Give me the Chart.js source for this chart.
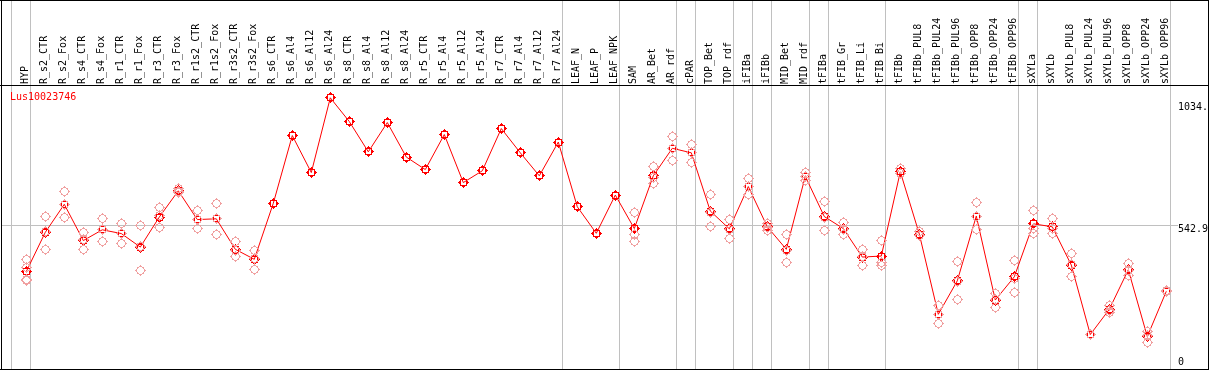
<!DOCTYPE html>
<html>
<head>
<meta charset="utf-8">
<script src="https://cdn.jsdelivr.net/npm/chart.js@4/dist/chart.umd.min.js"></script>
<style>
html,body{margin:0;padding:0;background:#fff;}
canvas{display:block;}
</style>
</head>
<body>
<canvas id="c" width="1209" height="370"></canvas>
<script>
const categories = ["HYP","R_s2_CTR","R_s2_Fox","R_s4_CTR","R_s4_Fox","R_r1_CTR","R_r1_Fox","R_r3_CTR","R_r3_Fox","R_r1s2_CTR","R_r1s2_Fox","R_r3s2_CTR","R_r3s2_Fox","R_s6_CTR","R_s6_Al4","R_s6_Al12","R_s6_Al24","R_s8_CTR","R_s8_Al4","R_s8_Al12","R_s8_Al24","R_r5_CTR","R_r5_Al4","R_r5_Al12","R_r5_Al24","R_r7_CTR","R_r7_Al4","R_r7_Al12","R_r7_Al24","LEAF_N","LEAF_P","LEAF_NPK","SAM","AR_Bet","AR_rdf","cPAR","TOP_Bet","TOP_rdf","iFIBa","iFIBb","MID_Bet","MID_rdf","tFIBa","tFIB_Gr","tFIB_Li","tFIB_Bi","tFIBb","tFIBb_PUL8","tFIBb_PUL24","tFIBb_PUL96","tFIBb_OPP8","tFIBb_OPP24","tFIBb_OPP96","sXYLa","sXYLb","sXYLb_PUL8","sXYLb_PUL24","sXYLb_PUL96","sXYLb_OPP8","sXYLb_OPP24","sXYLb_OPP96"];

const meanValues = [360,517,629,484,527,512,458,578,683,568,571,449,409,633,904,756,1055,960,839,956,818,768,908,716,763,932,835,743,878,619,513,666,532,743,853,835,602,531,700,539,449,741,580,532,418,422,759,510,189,323,582,246,339,551,539,386,108,209,367,100,281];

const rep1 = [409,582,680,515,574,551,545,616,692,606,633,481,446,null,null,null,null,null,null,null,null,null,null,null,null,null,null,null,null,null,null,null,598,779,902,870,669,570,733,553,509,756,642,556,449,484,772,521,226,402,637,274,406,606,572,431,110,226,392,121,283];
const rep2 = [376,449,578,449,480,471,366,535,678,531,508,421,370,null,null,null,null,null,null,null,null,null,null,null,null,null,null,null,null,null,null,null,481,712,806,798,539,493,667,526,395,726,523,510,385,396,752,505,154,248,527,215,277,513,512,340,107,198,343,75,280];
const rep3 = [329,519,629,488,527,514,462,584,679,567,572,445,412,null,null,null,null,null,null,null,null,null,null,null,null,null,null,null,null,null,null,null,510,738,851,837,598,530,700,538,443,741,575,530,421,383,753,504,188,319,582,249,334,534,533,387,107,203,366,104,280];
const rep4 = [324];

const yTickValues = [0, 542.9, 1034];
const yTickLabels = ["0", "542.9", "1034."];
const geneName = "Lus10023746";
const separatorsAfter = [-1,0,28,31,34,35,37,38,39,41,42,45,52,53,60];

function makeMarker(color, rIn, rOut) {
  const c = document.createElement('canvas');
  c.width = 13; c.height = 13;
  const g = c.getContext('2d');
  g.fillStyle = color;
  for (let py = 0; py < 13; py++) {
    for (let px = 0; px < 13; px++) {
      const d = Math.hypot(px - 6, py - 6);
      if (d >= rIn && d <= rOut) g.fillRect(px, py, 1, 1);
    }
  }
  g.fillRect(6, 1, 1, 1);
  g.fillRect(6, 11, 1, 1);
  g.fillRect(1, 6, 1, 1);
  g.fillRect(11, 6, 1, 1);
  return c;
}
const meanMarker = makeMarker('#ff0000', 3.0, 4.25);
const repMarker = makeMarker('#f0a0a0', 3.4, 4.25);

const MONO = "'DejaVu Sans Mono', 'Liberation Mono', monospace";

const framePlugin = {
  id: 'frame',
  beforeDraw(chart) {
    const ctx = chart.ctx;
    ctx.save();
    ctx.fillStyle = '#fff';
    ctx.fillRect(0, 0, chart.width, chart.height);
    ctx.restore();
  },
  beforeDatasetsDraw(chart) {
    const ctx = chart.ctx;
    const xs = chart.scales.x, ys = chart.scales.y;
    const p0 = xs.getPixelForValue(0), p1 = xs.getPixelForValue(1);
    const step = p1 - p0;
    ctx.save();
    ctx.fillStyle = '#c0c0c0';
    separatorsAfter.forEach(i => {
      const x = p0 + step * i + 4;
      ctx.fillRect(Math.floor(x), 0, 1, chart.height);
    });
    const gy = ys.getPixelForValue(yTickValues[1]);
    ctx.fillRect(1, Math.floor(gy), 1177, 1);
    ctx.restore();
    ctx.imageSmoothingEnabled = false;
  },
  afterDatasetsDraw(chart) {
    chart.ctx.imageSmoothingEnabled = true;
  },
  afterDraw(chart) {
    const ctx = chart.ctx;
    const ys = chart.scales.y;
    const W = chart.width, H = chart.height;
    ctx.save();
    ctx.fillStyle = '#000';
    ctx.fillRect(0, 0, W, 1);
    ctx.fillRect(0, 85, W, 1);
    ctx.fillRect(0, H - 1, W, 1);
    ctx.fillRect(1, 0, 1, H);
    ctx.fillRect(W - 1, 0, 1, H);
    ctx.font = '10px ' + MONO;
    ctx.textBaseline = 'middle';
    ctx.textAlign = 'left';
    yTickValues.forEach((v, k) => {
      let y = ys.getPixelForValue(v) + 4;
      if (y > 362) y = 362;
      ctx.fillText(yTickLabels[k], 1178, y);
    });
    ctx.fillStyle = '#ff0000';
    ctx.fillText(geneName, 10, 97);
    ctx.restore();
  }
};

const ctx = document.getElementById('c').getContext('2d');
new Chart(ctx, {
  type: 'line',
  data: {
    labels: categories,
    datasets: [
      { label: 'rep1', data: rep1, showLine: false, pointStyle: repMarker, pointRadius: 5, borderColor: '#f0a0a0' },
      { label: 'rep2', data: rep2, showLine: false, pointStyle: repMarker, pointRadius: 5, borderColor: '#f0a0a0' },
      { label: 'rep3', data: rep3, showLine: false, pointStyle: repMarker, pointRadius: 5, borderColor: '#f0a0a0' },
      { label: 'rep4', data: rep4, showLine: false, pointStyle: repMarker, pointRadius: 5, borderColor: '#f0a0a0' },
      { label: 'mean', data: meanValues, borderColor: '#ff0000', borderWidth: 1, tension: 0, pointStyle: meanMarker, pointRadius: 5, fill: false }
    ]
  },
  options: {
    responsive: false,
    animation: false,
    events: [],
    layout: { padding: { left: 16.8, right: 0, top: 0, bottom: 1 } },
    plugins: { legend: { display: false }, tooltip: { enabled: false }, title: { display: false } },
    scales: {
      x: {
        type: 'category',
        position: 'top',
        offset: true,
        grid: { display: false, drawTicks: false },
        border: { display: false },
        ticks: {
          autoSkip: false, maxRotation: 90, minRotation: 90,
          font: { family: MONO, size: 10 }, color: '#000', padding: 2,
          labelOffset: 11
        },
        afterFit(s) { s.height = 86; }
      },
      y: {
        position: 'right',
        min: -9.8, max: 1102.2,
        grid: { display: false, drawTicks: false },
        border: { display: false },
        ticks: { display: false },
        afterFit(s) { s.width = 33.2; }
      }
    }
  },
  plugins: [framePlugin]
});
</script>
</body>
</html>
